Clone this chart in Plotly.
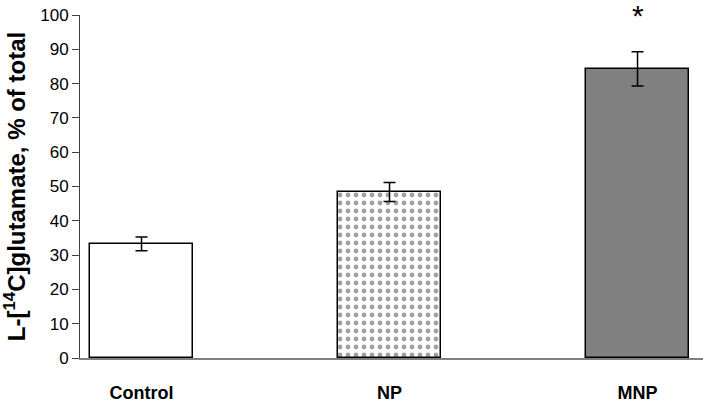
import plotly.graph_objects as go

categories = ["Control", "NP", "MNP"]
values = [33.3, 48.4, 84.3]
errors = [2.0, 2.8, 5.0]
fills = ["#ffffff", "#ffffff", "#808080"]
y_ticks = [0, 10, 20, 30, 40, 50, 60, 70, 80, 90, 100]
significance = ["", "", "*"]

FONT = "Liberation Sans, Arial, sans-serif"

fig = go.Figure()
fig.add_trace(go.Bar(
    x=list(range(len(categories))),
    y=values,
    width=0.415,
    marker=dict(
        color=fills,
        line=dict(color="#000000", width=1.5),
        pattern=dict(
            shape=["", ".", ""],
            fgcolor="#999999",
            bgcolor="#ffffff",
            size=8,
            solidity=0.28,
            fillmode="overlay",
        ),
    ),
    error_y=dict(type="data", array=errors, visible=True,
                 color="#000000", thickness=1.5, width=6),
    showlegend=False,
))

for i, s in enumerate(significance):
    if s:
        fig.add_annotation(x=i, y=values[i] + errors[i] + 10.5, text=s,
                           showarrow=False, yanchor="middle",
                           font=dict(family=FONT, size=30, color="#000000"))

fig.update_layout(
    width=703, height=407,
    margin=dict(l=80, r=0, t=15, b=49),
    paper_bgcolor="#ffffff", plot_bgcolor="#ffffff",
    font=dict(family=FONT, color="#000000"),
    bargap=0,
)
fig.update_xaxes(
    range=[-0.248, 2.264],
    automargin=False,
    tickmode="array",
    tickvals=list(range(len(categories))),
    ticktext=categories,
    tickfont=dict(family=FONT, size=18, color="#000000", weight="bold"),
    ticks="", ticklabelstandoff=17,
    showline=True, linecolor="#808080", linewidth=2,
    showgrid=False, zeroline=False,
)
fig.update_yaxes(
    range=[0, 100],
    automargin=False,
    tickvals=y_ticks,
    tickfont=dict(family=FONT, size=17, color="#000000"),
    ticks="outside", ticklen=7, tickwidth=1, tickcolor="#404040",
    showline=True, linecolor="#404040", linewidth=1,
    showgrid=False, zeroline=False,
    title=dict(text="L-[<sup>14</sup>C]glutamate, % of total",
               font=dict(family=FONT, size=24, color="#000000", weight="bold"),
               standoff=9),
)

fig.write_html("out.html",
               config={"displayModeBar": False},
               post_script="document.body.style.margin='0';")
